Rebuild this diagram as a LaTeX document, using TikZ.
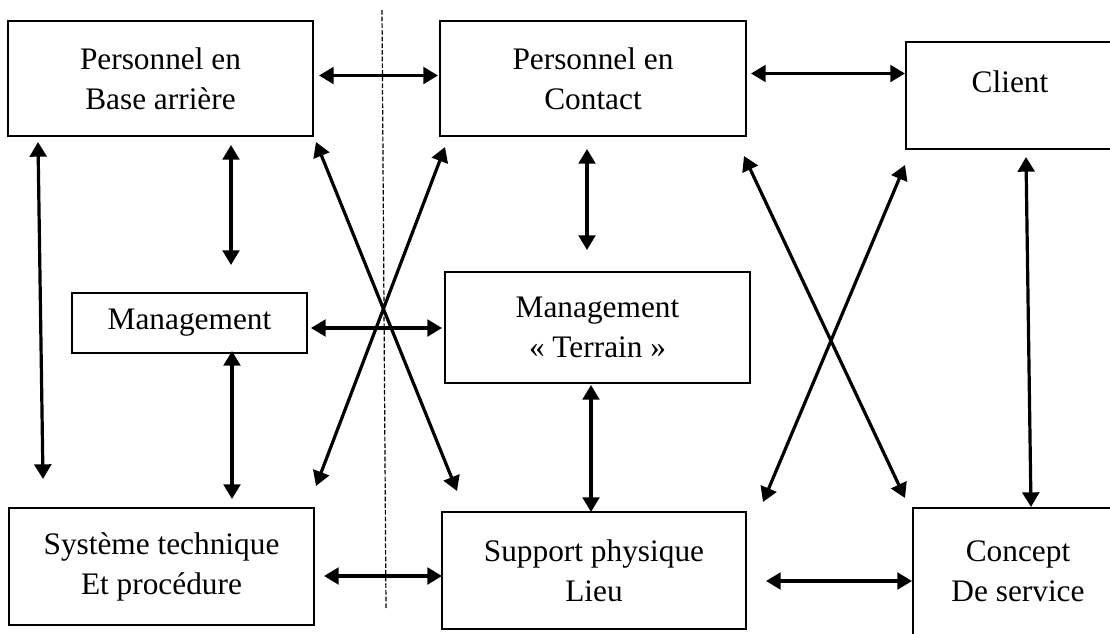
\documentclass[tikz,border=0pt]{standalone}
\usepackage{fontspec}
\setmainfont{Liberation Serif}
\usetikzlibrary{calc,arrows.meta}
\begin{document}
\begin{tikzpicture}[x=0.75pt,y=-0.75pt,
  box/.style={draw,line width=1.5pt,rectangle,inner sep=0pt,align=center,
    font=\fontsize{23.5pt}{30pt}\selectfont},
  lbl/.style={inner sep=0pt,align=center,font=\fontsize{23.5pt}{30pt}\selectfont},
  link/.style={line width=2.4pt,{Triangle[length=11pt,width=12.5pt]}-{Triangle[length=11pt,width=12.5pt]}},
  sep/.style={line width=0.9pt,dash pattern=on 3.5pt off 1.5pt}]
\useasboundingbox (0,0) rectangle (1110,633);
\clip (0,0) rectangle (1110,633);

% boxes
\node[box,minimum width=305*0.75pt,minimum height=115*0.75pt] (b1) at (160.5,78.5) {Personnel en\\Base arrière};
\node[box,minimum width=306*0.75pt,minimum height=115*0.75pt] (b2) at (593,78.5) {Personnel en\\Contact};
\node[box,minimum width=209*0.75pt,minimum height=107*0.75pt] (client) at (1010.5,95.5) {};
\node[lbl] (clientlbl) at (1010,82) {Client};
\node[box,minimum width=235*0.75pt,minimum height=60*0.75pt] (mgmt) at (189.5,323) {Management};
\node[box,minimum width=305*0.75pt,minimum height=111*0.75pt] (terrain) at (597.5,327.5) {Management\\« Terrain »};
\node[box,minimum width=305*0.75pt,minimum height=117*0.75pt] (sys) at (161.5,566.5) {Système technique\\Et procédure};
\node[box,minimum width=304*0.75pt,minimum height=117*0.75pt] (supp) at (594,570.5) {Support physique\\Lieu};
\node[box,minimum width=202*0.75pt,minimum height=142*0.75pt] (concept) at (1014,579) {};
\node[lbl] (conceptlbl) at (1018,571) {Concept\\De service};

% separation line
\draw[sep] (382,10) -- (386,608);

% links
\draw[link] ($(b1.east)+(5,-3)$) -- ($(b2.west)+(-1,-3)$);
\draw[link] ($(b2.east)+(4,-5)$) -- ($(client.west)+(0,-22)$);
\draw[link] ($(b1.south west)+(31,5)$) -- ($(sys.north west)+(35,-28)$);
\draw[link] ($(b1.south west)+(224,8)$) -- ($(mgmt.north west)+(160,-27)$);
\draw[link] ($(b1.south east)+(2,5)$) -- ($(supp.north west)+(16,-20)$);
\draw[link] ($(b2.south west)+(6,10)$) -- ($(sys.north east)+(1,-21)$);
\draw[link] ($(b2.south west)+(148,12)$) -- ($(terrain.north west)+(143,-21)$);
\draw[link] ($(b2.south east)+(-3,19)$) -- ($(concept.north west)+(-7,-9)$);
\draw[link] ($(client.south west)+(0,15)$) -- ($(supp.north east)+(16,-9)$);
\draw[link] ($(client.south west)+(121,7)$) -- ($(concept.north west)+(119,0)$);
\draw[link] ($(mgmt.east)+(3,5)$) -- ($(terrain.west)+(-2,0.5)$);
\draw[link] ($(mgmt.south west)+(161,-3)$) -- ($(sys.north west)+(224,-8)$);
\draw[link] ($(terrain.south west)+(147,1)$) -- ($(supp.north west)+(150,1)$);
\draw[link] ($(sys.east)+(9,9.5)$) -- ($(supp.west)+(1,5.5)$);
\draw[link] ($(supp.east)+(19,10.5)$) -- ($(concept.west)+(0,2)$);
\end{tikzpicture}
\end{document}
